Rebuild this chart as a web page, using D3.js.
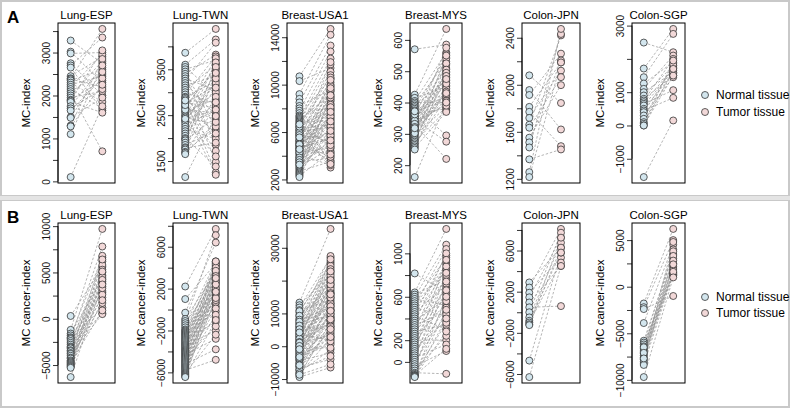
<!DOCTYPE html>
<html><head><meta charset="utf-8">
<script src="https://cdn.jsdelivr.net/npm/d3@7"></script>
<style>
body{margin:0;background:#fff}
svg{display:block;font-family:"Liberation Sans",Arial,Helvetica,sans-serif}
</style>
</head><body>
<svg id="c" width="790" height="409"></svg>
<script>
// ---------------- DATA ----------------
const cohorts = ["Lung-ESP","Lung-TWN","Breast-USA1","Breast-MYS","Colon-JPN","Colon-SGP"];
const rowLetters = ["A","B"];
const rowTitles = ["MC-index","MC cancer-index"];
const legendLabels = ["Normal tissue","Tumor tissue"];

// Panel A : MC-index (normal[i] paired with tumor[i])
const aLungESPNormal = [3280,3020,2980,2750,2700,2650,2450,2400,2380,2350,2300,2250,2200,2150,2100,2050,2000,1950,1900,1880,1850,1750,1700,1650,1500,1480,1300,1280,1100,100];
const aLungESPTumor  = [2750,2300,3000,2000,3350,1650,2900,3550,2200,2600,1850,2450,2950,1700,2500,700,2800,2100,2350,3050,1600,2650,2150,2400,2550,1950,2850,2250,2700,1750];

const aLungTWNNormal = [3860,3600,3550,3500,3450,3400,3350,3300,3250,3200,3150,3100,3050,3000,2950,2900,2880,2850,2800,2780,2750,2700,2680,2650,2600,2580,2550,2500,2480,2450,2400,2380,2350,2300,2250,2200,2150,2100,2050,2000,1980,1950,1900,1850,1800,1780,1750,1700,1680,1650,2620,2720,2820,2420,1150];
const aLungTWNTumor  = [4380,4150,2950,3700,2200,3820,1850,3050,4080,2500,3350,1480,3600,2750,3780,2050,3250,1250,3450,2650,3150,1720,3520,2400,3740,2850,1200,3000,3620,2300,3200,1600,3400,2600,3650,1980,3100,2800,3500,1380,3300,2450,3550,2150,2900,1900,3420,2250,2700,2350,2550,2100,2780,2620,2480];

const aBreastUSA1Normal = [10700,10300,9200,8800,8500,8200,8000,7800,7600,7400,7300,7200,7100,7000,6900,6800,6700,6600,6500,6400,6300,6200,6100,6000,5900,5800,5700,5600,5500,5400,5300,5200,5100,5000,4900,4800,4700,4600,4500,4400,4300,4200,4100,4000,3900,3800,3700,3600,3500,3400,3300,3200,3100,3000,2900,2800,2700,2600,2500,2400,2300,2200,5250,5050,4850,4650,4450,4250,3850,3650,3450,6150,5950,5750,5550,6450,6650,4950,4550,3250];
const aBreastUSA1Tumor  = [14700,11400,14200,6200,13300,9600,4400,12800,8000,10500,5600,12200,3400,9200,11700,7000,10200,4800,11100,8400,6600,10800,3000,9800,7600,5200,10000,8800,4000,9400,7200,6000,11900,3600,8600,9000,5400,7800,10600,4200,6800,9900,3200,8200,7400,5800,10400,6400,3800,9500,5000,8700,4600,9700,7900,5900,3500,8900,6300,9100,4300,7500,8300,3900,7100,5500,8100,4700,6700,5100,7300,4100,6500,3300,5700,4900,7700,6900,6100,5300];

const aBreastMYSNormal = [570,425,415,405,400,395,390,385,380,375,370,365,360,355,350,345,340,335,330,325,320,315,310,305,300,295,290,285,280,275,270,265,260,255,250,352,342,332,322,312,302,362,372,318,162];
const aBreastMYSTumor  = [585,635,450,560,400,530,470,295,545,420,510,380,555,440,490,275,520,395,220,575,465,410,540,430,500,385,550,455,480,375,525,415,445,370,505,460,390,495,435,485,425,475,405,430,400];

const aColonJPNNormal = [2080,1955,1913,1812,1770,1718,1660,1635,1550,1510,1467,1366,1257,1215];
const aColonJPNTumor  = [1845,1620,2265,2190,1478,2120,2420,2065,1997,2207,2432,1450,2475,2190];

const aColonSGPNormal = [2490,1710,1450,1260,1100,1000,900,800,750,700,650,600,500,450,400,300,200,100,50,0,0,-1550];
const aColonSGPTumor  = [2200,2900,2750,1900,2100,1600,1800,1500,2000,1700,1060,1650,1550,830,1750,1450,1850,1600,1950,1500,1700,150];

// Panel B : MC cancer-index
const bLungESPNormal = [300,-1200,-1600,-1800,-2000,-2100,-2200,-2400,-2600,-2800,-3000,-3100,-3200,-3400,-3500,-3700,-3800,-4000,-4200,-4300,-4500,-4600,-4700,-4800,-4900,-5000,-5100,-5200,-5300,-6300];
const bLungESPTumor  = [5600,9700,4300,6600,2800,7800,1200,5000,3500,6200,600,4700,3000,5800,2300,4000,500,6800,3800,1700,5300,2600,4500,900,6400,3300,5100,2000,4200,3700];

const bLungTWNNormal = [2200,1000,-300,-900,-1100,-1300,-1500,-1700,-1900,-2000,-2100,-2200,-2300,-2400,-2500,-2600,-2700,-2800,-2900,-3000,-3100,-3200,-3300,-3400,-3500,-3600,-3700,-3800,-3900,-4000,-4100,-4200,-4300,-4400,-4500,-4600,-4700,-4800,-4900,-5000,-5100,-5200,-5300,-5400,-5500,-5600,-5700,-5800,-5900,-6000,-6100,-6200,-6300,-6400,-6450];
const bLungTWNTumor  = [7700,4400,6400,3600,7100,2800,4600,1500,3900,600,4200,2100,3300,-200,4500,2500,1000,3800,-1200,2900,4100,300,1800,3500,-2000,2600,4300,1200,-800,3100,1900,4000,-2800,2300,700,3400,-1600,1400,2700,4600,100,-3800,2000,3700,-500,1600,3200,-4800,900,2400,-2400,1100,3000,-1000,1700];

const bBreastUSA1Normal = [13300,12500,11800,11000,10300,9600,9000,8400,7800,7200,6600,6000,5500,5000,4500,4000,3500,3000,2500,2000,1500,1000,500,0,-500,-1000,-1500,-2000,-2500,-3000,-3500,-4000,-4500,-5000,-5500,-6000,-6500,-7000,-7500,-8000,-8500,-9000,-9400,10700,9300,8100,6900,5800,4700,3800,2800,1800,800,-200,-1200,-2200,-3200,-4200,-5200,-6200,-7200,-8200,3300,2300,1300,300,-700,-1700,-2700,-3700,7500,6300,5200,4200,1100,100,-900,-3300,-5800,-8700];
const bBreastUSA1Tumor  = [35750,22000,27000,14000,25500,18000,8000,24000,12000,20000,26000,5000,16000,23000,10000,19000,2000,21000,13000,25000,7000,17000,11000,22500,4000,15000,9000,20500,1000,12500,6000,18500,-2000,8500,3000,14500,-4000,5500,10500,-1000,2500,7500,-6500,24500,16500,27500,11500,21500,6500,17500,13500,23500,3500,15500,9500,19500,500,13000,4500,11000,-3000,6000,26500,14800,8800,18800,-500,12200,5200,16200,22800,9800,20200,1500,15800,7800,10800,2800,8200,-5500];

const bBreastMYSNormal = [815,640,620,600,580,560,540,520,500,480,460,440,420,400,380,360,340,320,300,280,260,240,220,200,180,160,140,120,100,80,60,40,20,0,-20,-40,-60,-80,-100,-110,-120,-125,-130,-135,-140];
const bBreastMYSTumor  = [640,1225,760,1080,520,960,840,1040,420,900,700,980,300,860,580,1000,460,780,920,340,680,880,540,200,800,620,720,380,940,500,660,160,820,440,560,100,740,240,-110,360,480,120,600,280,400];

const bColonJPNNormal = [2900,2400,1900,1450,950,480,0,-500,-830,-1000,-1160,-1250,-4700,-6300];
const bColonJPNTumor  = [6280,8100,5310,7250,4500,600,7730,6760,5800,4830,7250,6280,5800,4500];

const bColonSGPNormal = [-1800,-2200,-2400,-3900,-5800,-6000,-6200,-6400,-6600,-6800,-7000,-7200,-7400,-7600,-7800,-8000,-8200,-8400,-6500,-7100,-7700,-9700];
const bColonSGPTumor  = [6200,5000,-1000,4500,3500,1200,4000,2000,3000,1500,2500,3800,1300,2200,4800,1800,3300,1400,2800,1600,2400,1000];

// Axis ticks (all tick marks) and which of them carry a label
const aTicks = [
  [0,500,1000,1500,2000,2500,3000,3500],
  [1500,2000,2500,3000,3500,4000],
  [2000,4000,6000,8000,10000,12000,14000],
  [200,300,400,500,600],
  [1200,1400,1600,1800,2000,2200,2400],
  [-1000,0,1000,2000,3000]
];
const aTickLabels = [
  [0,1000,2000,3000],
  [1500,2500,3500],
  [2000,6000,10000,14000],
  [200,300,400,500,600],
  [1200,1600,2000,2400],
  [-1000,0,1000,3000]
];
const bTicks = [
  [-5000,-2500,0,2500,5000,7500,10000],
  [-6000,-4000,-2000,0,2000,4000,6000,8000],
  [-10000,0,10000,20000,30000],
  [0,200,400,600,800,1000],
  [-6000,-4000,-2000,0,2000,4000,6000,8000],
  [-10000,-7500,-5000,-2500,0,2500,5000]
];
const bTickLabels = [
  [-5000,0,5000,10000],
  [-6000,-2000,2000,6000],
  [-10000,0,10000,30000],
  [0,200,600,1000],
  [-6000,-2000,2000,6000],
  [-10000,-5000,0,5000]
];

const aNormals = [aLungESPNormal,aLungTWNNormal,aBreastUSA1Normal,aBreastMYSNormal,aColonJPNNormal,aColonSGPNormal];
const aTumors  = [aLungESPTumor,aLungTWNTumor,aBreastUSA1Tumor,aBreastMYSTumor,aColonJPNTumor,aColonSGPTumor];
const bNormals = [bLungESPNormal,bLungTWNNormal,bBreastUSA1Normal,bBreastMYSNormal,bColonJPNNormal,bColonSGPNormal];
const bTumors  = [bLungESPTumor,bLungTWNTumor,bBreastUSA1Tumor,bBreastMYSTumor,bColonJPNTumor,bColonSGPTumor];

// ---------------- LAYOUT ----------------
const W = 790, Hh = 409;
const boxLeft  = [58,173,287,410,522,632];
const boxRight = [115,228,343,462,580,685];
const xDomains = [[0.6,2.4],[0.6,2.4],[0.6,2.4],[0.85,2.5],[0.77,2.6],[0.6,2.4]];
const rowTop = [23,223];
const plotH = 160;
const colNormal = "#d3e6ee", colTumor = "#f2d8d8";

const svg = d3.select("#c");

// frame
svg.append("rect").attr("x",0).attr("y",0).attr("width",W).attr("height",Hh).attr("fill","#fff");
svg.append("rect").attr("x",1).attr("y",1).attr("width",W-2).attr("height",195)
   .attr("fill","none").attr("stroke","#c9c9c9").attr("stroke-width",2);
svg.append("rect").attr("x",1).attr("y",200).attr("width",W-2).attr("height",207)
   .attr("fill","none").attr("stroke","#c9c9c9").attr("stroke-width",2);
svg.append("rect").attr("x",0).attr("y",196).attr("width",W).attr("height",4).attr("fill","#e4e4e4");

const fmt = d3.format("d");

const rows = [
  {normals:aNormals, tumors:aTumors, ticks:aTicks, labels:aTickLabels},
  {normals:bNormals, tumors:bTumors, ticks:bTicks, labels:bTickLabels}
];

rows.forEach((row, r) => {
  const top = rowTop[r], bottom = top + plotH;
  svg.append("text").attr("x",7).attr("y",top).text(rowLetters[r])
     .attr("font-size",17).attr("font-weight","bold").attr("fill","#000");

  cohorts.forEach((name, c) => {
    const L = boxLeft[c], R = boxRight[c];
    const nv = row.normals[c], tv = row.tumors[c];
    const all = nv.concat(tv);
    const lo = d3.min(all), hi = d3.max(all), span = hi - lo;
    const y = d3.scaleLinear().domain([lo - 0.04*span, hi + 0.04*span]).range([bottom, top]);
    const x = d3.scaleLinear().domain(xDomains[c]).range([L, R]);
    const g = svg.append("g");

    // title
    g.append("text").attr("x",(L+R)/2).attr("y",top-4.5).attr("text-anchor","middle")
     .attr("font-size",11.5).attr("fill","#000").text(name);

    // y axis
    const dom = y.domain();
    const tv2 = row.ticks[c].filter(t => t >= dom[0] && t <= dom[1]);
    const labs = row.labels[c];
    const ax = g.append("g").attr("transform",`translate(${L},0)`)
      .call(d3.axisLeft(y).tickValues(tv2).tickSize(5).tickSizeOuter(0)
        .tickFormat(d => labs.includes(d) ? fmt(d) : ""));
    ax.select(".domain").attr("stroke","#000").attr("stroke-width",0.8)
      .attr("d",`M0,${y(d3.min(tv2))}V${y(d3.max(tv2))}`);
    ax.selectAll(".tick line").attr("stroke","#000").attr("stroke-width",0.8);
    ax.selectAll(".tick text")
      .attr("x",null).attr("dy",null)
      .attr("transform","translate(-8,0) rotate(-90)")
      .attr("text-anchor","middle")
      .attr("font-family","Liberation Sans, Arial, sans-serif")
      .attr("font-size",10).attr("fill","#111");

    // y title
    g.append("text").attr("transform",`translate(${L-28},${(top+bottom)/2}) rotate(-90)`)
     .attr("text-anchor","middle").attr("font-size",11.5).attr("fill","#000").text(rowTitles[r]);

    // pair lines
    const n = Math.min(nv.length, tv.length);
    const pairs = d3.range(n).map(i => [nv[i], tv[i]]);
    g.append("g").selectAll("line").data(pairs).join("line")
      .attr("x1", x(1)).attr("x2", x(2))
      .attr("y1", d => y(d[0])).attr("y2", d => y(d[1]))
      .attr("stroke","#959595").attr("stroke-width",0.7).attr("stroke-dasharray","2.5,1.8");

    // points
    g.append("g").selectAll("circle").data(nv).join("circle")
      .attr("cx", x(1)).attr("cy", d => y(d)).attr("r",3.5)
      .attr("fill",colNormal).attr("stroke","#2a2a2a").attr("stroke-width",0.75);
    g.append("g").selectAll("circle").data(tv).join("circle")
      .attr("cx", x(2)).attr("cy", d => y(d)).attr("r",3.5)
      .attr("fill",colTumor).attr("stroke","#2a2a2a").attr("stroke-width",0.75);

    // box
    g.append("rect").attr("x",L).attr("y",top).attr("width",R-L).attr("height",plotH)
     .attr("fill","none").attr("stroke","#000").attr("stroke-width",1);
  });

  // legend
  const ly = [r === 0 ? 95 : 297, r === 0 ? 112 : 313];
  const lg = svg.append("g");
  [colNormal, colTumor].forEach((col, i) => {
    lg.append("circle").attr("cx",705).attr("cy",ly[i]).attr("r",3.5)
      .attr("fill",col).attr("stroke","#2a2a2a").attr("stroke-width",0.75);
    lg.append("text").attr("x",716).attr("y",ly[i]).attr("dy","0.35em")
      .attr("font-size",12).attr("fill","#000").text(legendLabels[i]);
  });
});
</script>
</body></html>
